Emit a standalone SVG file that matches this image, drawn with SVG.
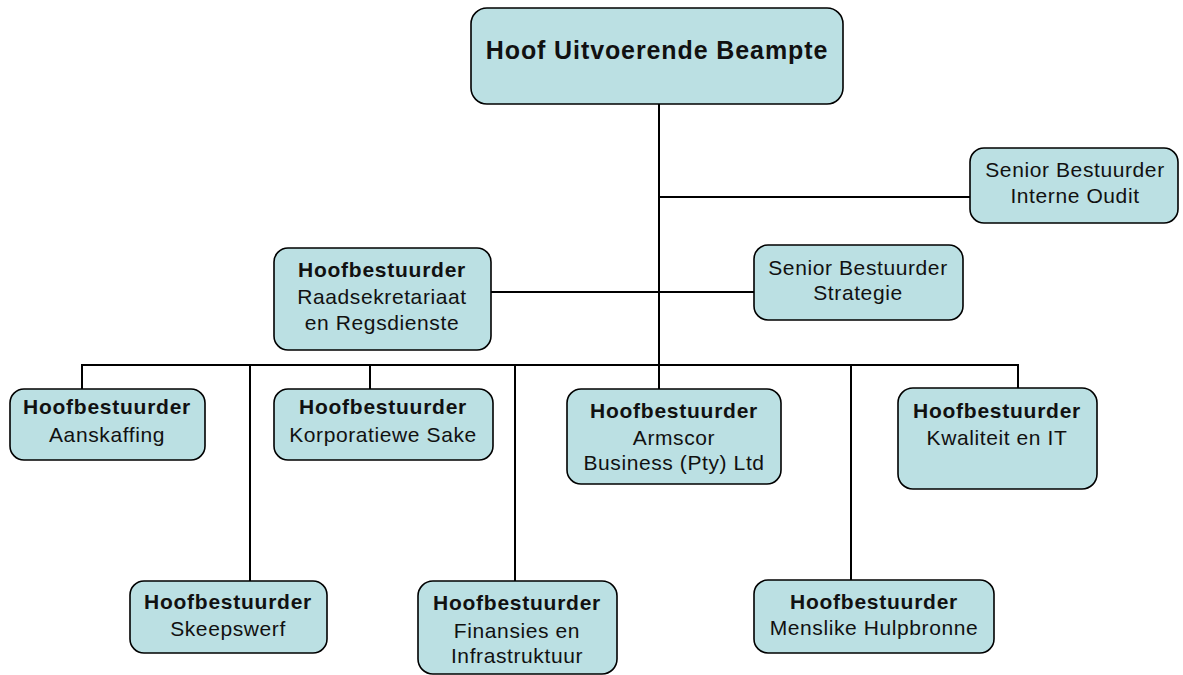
<svg xmlns="http://www.w3.org/2000/svg" width="1183" height="675" viewBox="0 0 1183 675">
<style>
.box{fill:#BBE0E3;stroke:#000;stroke-width:1.6}
.t{font-family:"Liberation Sans",Arial,sans-serif;font-size:21px;fill:#111;text-anchor:middle;letter-spacing:0.6px}
.b{font-weight:bold;letter-spacing:0.75px}
.title{font-family:"Liberation Sans",Arial,sans-serif;font-size:25px;font-weight:bold;fill:#111;text-anchor:middle;letter-spacing:0.9px}
.c{stroke:#000;stroke-width:2;fill:none}
</style>
<rect width="1183" height="675" fill="#fff"/>
<g id="connectors">
<line class="c" x1="659" y1="104" x2="659" y2="389"/>
<line class="c" x1="659" y1="197" x2="970" y2="197"/>
<line class="c" x1="491" y1="292" x2="754" y2="292"/>
<line class="c" x1="81" y1="365" x2="1019" y2="365"/>
<line class="c" x1="82" y1="365" x2="82" y2="389"/>
<line class="c" x1="250" y1="365" x2="250" y2="581"/>
<line class="c" x1="370" y1="365" x2="370" y2="389"/>
<line class="c" x1="515" y1="365" x2="515" y2="581"/>
<line class="c" x1="851" y1="365" x2="851" y2="580"/>
<line class="c" x1="1018" y1="365" x2="1018" y2="388"/>
</g>
<g id="ceo">
<rect class="box" x="471" y="8" width="372" height="96" rx="16"/>
<text class="title" x="657" y="59">Hoof Uitvoerende Beampte</text>
</g>
<g id="interne-oudit">
<rect class="box" x="970" y="148" width="208" height="75" rx="14"/>
<text class="t" x="1075" y="177">Senior Bestuurder</text>
<text class="t" x="1075" y="203">Interne Oudit</text>
</g>
<g id="strategie">
<rect class="box" x="754" y="245" width="209" height="75" rx="14"/>
<text class="t" x="858" y="275">Senior Bestuurder</text>
<text class="t" x="858" y="300">Strategie</text>
</g>
<g id="raadsekretariaat">
<rect class="box" x="274" y="248" width="217" height="102" rx="14"/>
<text class="t b" x="382" y="277">Hoofbestuurder</text>
<text class="t" x="382" y="304">Raadsekretariaat</text>
<text class="t" x="382" y="330">en Regsdienste</text>
</g>
<g id="aanskaffing">
<rect class="box" x="10" y="389" width="195" height="71" rx="14"/>
<text class="t b" x="107" y="414">Hoofbestuurder</text>
<text class="t" x="107" y="442">Aanskaffing</text>
</g>
<g id="korporatiewe-sake">
<rect class="box" x="274" y="389" width="219" height="71" rx="14"/>
<text class="t b" x="383" y="414">Hoofbestuurder</text>
<text class="t" x="383" y="442">Korporatiewe Sake</text>
</g>
<g id="armscor-business">
<rect class="box" x="567" y="389" width="214" height="95" rx="14"/>
<text class="t b" x="674" y="418">Hoofbestuurder</text>
<text class="t" x="674" y="445">Armscor</text>
<text class="t" x="674" y="470">Business (Pty) Ltd</text>
</g>
<g id="kwaliteit-it">
<rect class="box" x="898" y="388" width="199" height="101" rx="15"/>
<text class="t b" x="997" y="418">Hoofbestuurder</text>
<text class="t" x="997" y="445">Kwaliteit en IT</text>
</g>
<g id="skeepswerf">
<rect class="box" x="130" y="581" width="197" height="72" rx="14"/>
<text class="t b" x="228" y="609">Hoofbestuurder</text>
<text class="t" x="228" y="636">Skeepswerf</text>
</g>
<g id="finansies">
<rect class="box" x="418" y="581" width="199" height="93" rx="15"/>
<text class="t b" x="517" y="610">Hoofbestuurder</text>
<text class="t" x="517" y="638">Finansies en</text>
<text class="t" x="517" y="663">Infrastruktuur</text>
</g>
<g id="menslike-hulpbronne">
<rect class="box" x="754" y="580" width="240" height="73" rx="14"/>
<text class="t b" x="874" y="609">Hoofbestuurder</text>
<text class="t" x="874" y="635">Menslike Hulpbronne</text>
</g>
</svg>
